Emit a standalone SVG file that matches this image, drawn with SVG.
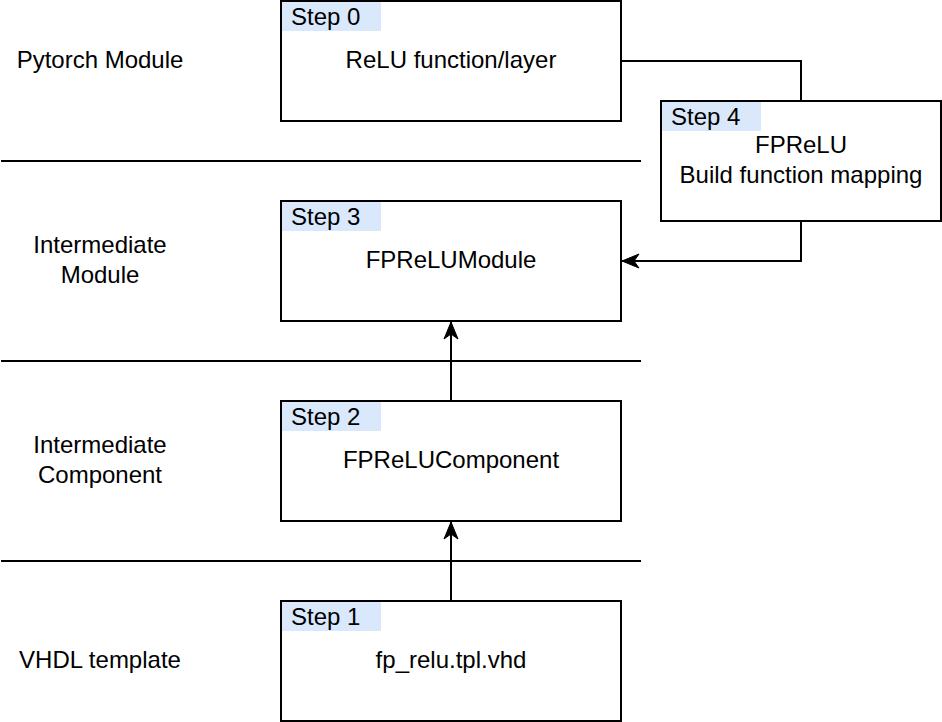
<svg xmlns="http://www.w3.org/2000/svg" width="942" height="722" viewBox="0 0 942 722">
<defs>
<style>
text{font-family:"Liberation Sans",Arial,sans-serif;font-size:24px;fill:#000}
.c{text-anchor:middle}
.box{fill:#fff;stroke:#000;stroke-width:2}
.lbl{fill:#dae8fc;stroke:none}
.ln{fill:none;stroke:#000;stroke-width:2}
</style>
<marker id="arr" markerUnits="userSpaceOnUse" markerWidth="20" markerHeight="20" viewBox="-18 -10 20 20" refX="0" refY="0" orient="auto">
<path d="M0,0 L-17,-7 L-12,0 L-17,7 Z" fill="#000" stroke="#000" stroke-width="1"/>
</marker>
</defs>
<rect width="942" height="722" fill="#fff"/>
<g id="separators">
<line class="ln" x1="1" y1="161" x2="641" y2="161"/>
<line class="ln" x1="1" y1="361" x2="641" y2="361"/>
<line class="ln" x1="1" y1="561" x2="641" y2="561"/>
</g>
<g id="layer-labels">
<text class="c" x="100" y="68">Pytorch Module</text>
<text class="c" x="100" y="253">Intermediate</text>
<text class="c" x="100" y="283">Module</text>
<text class="c" x="100" y="453">Intermediate</text>
<text class="c" x="100" y="483">Component</text>
<text class="c" x="100" y="668">VHDL template</text>
</g>
<g id="connectors">
<polyline class="ln" points="621,61 801,61 801,101"/>
<polyline class="ln" points="801,221 801,261 622,261" marker-end="url(#arr)"/>
<line class="ln" x1="451" y1="401" x2="451" y2="322" marker-end="url(#arr)"/>
<line class="ln" x1="451" y1="601" x2="451" y2="522" marker-end="url(#arr)"/>
</g>
<g id="step0">
<rect class="box" x="281" y="1" width="340" height="120"/>
<rect class="lbl" x="282" y="2" width="99" height="29"/>
<text x="291" y="25">Step 0</text>
<text class="c" x="451" y="68">ReLU function/layer</text>
</g>
<g id="step4">
<rect class="box" x="661" y="101" width="280" height="120"/>
<rect class="lbl" x="662" y="102" width="99" height="29"/>
<text x="671" y="125">Step 4</text>
<text class="c" x="801" y="153">FPReLU</text>
<text class="c" x="801" y="183">Build function mapping</text>
</g>
<g id="step3">
<rect class="box" x="281" y="201" width="340" height="120"/>
<rect class="lbl" x="282" y="202" width="99" height="29"/>
<text x="291" y="225">Step 3</text>
<text class="c" x="451" y="268">FPReLUModule</text>
</g>
<g id="step2">
<rect class="box" x="281" y="401" width="340" height="120"/>
<rect class="lbl" x="282" y="402" width="99" height="29"/>
<text x="291" y="425">Step 2</text>
<text class="c" x="451" y="468">FPReLUComponent</text>
</g>
<g id="step1">
<rect class="box" x="281" y="601" width="340" height="120"/>
<rect class="lbl" x="282" y="602" width="99" height="29"/>
<text x="291" y="625">Step 1</text>
<text class="c" x="451" y="668">fp_relu.tpl.vhd</text>
</g>
</svg>
